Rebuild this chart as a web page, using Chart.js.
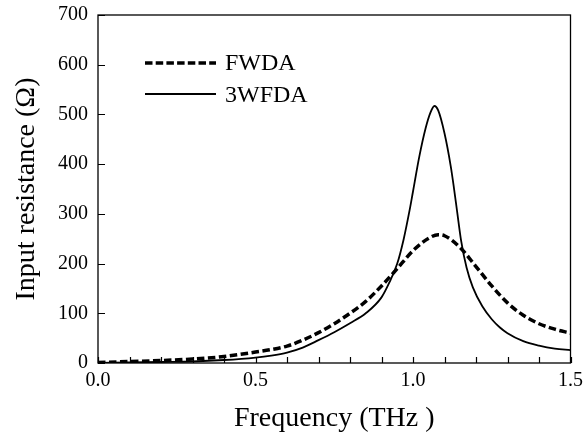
<!DOCTYPE html>
<html>
<head>
<meta charset="utf-8">
<script src="https://cdn.jsdelivr.net/npm/chart.js@4/dist/chart.umd.min.js"></script>
<style>
html,body{margin:0;padding:0;background:#fff;}
#wrap{width:583px;height:436px;}
</style>
</head>
<body>
<div id="wrap"><canvas id="c" width="583" height="436"></canvas></div>
<script>
// Data
const freqFWDA = [0.0, 0.1, 0.2, 0.3, 0.4, 0.5, 0.55, 0.6, 0.65, 0.7, 0.75, 0.8, 0.85, 0.9, 0.95, 1.0, 1.05, 1.08, 1.1, 1.15, 1.2, 1.25, 1.3, 1.35, 1.4, 1.45, 1.5];
const resFWDA  = [1, 3, 5, 8, 13, 22, 27, 34, 46, 61, 79, 100, 124, 155, 190, 226, 251, 258, 256, 232, 194, 155, 121, 96, 79, 68, 60];

const freq3WFDA = [0.0, 0.1, 0.2, 0.3, 0.4, 0.5, 0.55, 0.6, 0.65, 0.7, 0.75, 0.8, 0.85, 0.9, 0.925, 0.95, 0.97, 0.99, 1.0, 1.02, 1.04, 1.055, 1.068, 1.08, 1.1, 1.12, 1.13, 1.14, 1.153, 1.17, 1.19, 1.22, 1.25, 1.275, 1.3, 1.35, 1.4, 1.45, 1.5];
const res3WFDA  = [0, 1, 2, 3, 6, 11, 15, 21, 31, 46, 62, 80, 100, 132, 162, 200, 248, 310, 345, 415, 472, 503, 517, 508, 462, 395, 352, 305, 245, 192, 152, 114, 88, 72, 60, 44, 35, 29, 26];

const seriesNames = ['FWDA', '3WFDA'];
const xTicks = [0.0, 0.5, 1.0, 1.5];
const xMinorStep = 0.1;
const yTicks = [0, 100, 200, 300, 400, 500, 600, 700];

const serif = "'Liberation Serif', 'Times New Roman', serif";

function toPoints(xs, ys){ return xs.map((x,i)=>({x:x, y:ys[i]})); }

const frameAndTicks = {
  id: 'frameAndTicks',
  afterDatasetsDraw(chart){
    const {ctx, chartArea:a, scales:{x, y}} = chart;
    ctx.save();
    ctx.strokeStyle = '#000';
    ctx.lineWidth = 1.3;
    ctx.strokeRect(a.left, a.top, a.right - a.left, a.bottom - a.top);
    ctx.lineWidth = 1.2;
    ctx.beginPath();
    for (let i = 0; i <= Math.round((x.max - x.min)/xMinorStep); i++) {
      const v = x.min + i*xMinorStep;
      const px = Math.round(x.getPixelForValue(v)) + 0.5;
      ctx.moveTo(px, a.bottom);
      ctx.lineTo(px, a.bottom - 6);
    }
    yTicks.forEach(v=>{
      const py = Math.round(y.getPixelForValue(v)) + 0.5;
      ctx.moveTo(a.left, py);
      ctx.lineTo(a.left + 7, py);
    });
    ctx.stroke();

    // legend
    const lx0 = a.left + 47, lx1 = a.left + 118;
    const ly0 = a.top + 48, ly1 = a.top + 79;
    ctx.lineWidth = 3.5;
    ctx.setLineDash([7.5, 3.2]);
    ctx.beginPath(); ctx.moveTo(lx0, ly0); ctx.lineTo(lx1, ly0); ctx.stroke();
    ctx.setLineDash([]);
    ctx.lineWidth = 1.8;
    ctx.beginPath(); ctx.moveTo(lx0, ly1); ctx.lineTo(lx1, ly1); ctx.stroke();
    ctx.fillStyle = '#000';
    ctx.font = "24px " + serif;
    ctx.textBaseline = 'middle';
    ctx.textAlign = 'left';
    ctx.fillText(seriesNames[0], lx1 + 9, ly0 + 1);
    ctx.fillText(seriesNames[1], lx1 + 9, ly1 + 2);
    ctx.restore();
  }
};

new Chart(document.getElementById('c'), {
  type: 'line',
  data: {
    datasets: [
      {
        label: seriesNames[0],
        data: toPoints(freqFWDA, resFWDA),
        borderColor: '#000',
        borderWidth: 3.5,
        borderDash: [7.5, 3.5],
        pointRadius: 0,
        fill: false,
        cubicInterpolationMode: 'monotone'
      },
      {
        label: seriesNames[1],
        data: toPoints(freq3WFDA, res3WFDA),
        borderColor: '#000',
        borderWidth: 1.8,
        pointRadius: 0,
        fill: false,
        cubicInterpolationMode: 'monotone'
      }
    ]
  },
  options: {
    responsive: false,
    animation: false,
    devicePixelRatio: 1,
    layout: { padding: { left: 0, right: 12, top: 15, bottom: 0 } },
    plugins: { legend: { display: false }, tooltip: { enabled: false } },
    scales: {
      x: {
        type: 'linear',
        min: 0, max: 1.5,
        afterBuildTicks(scale){ scale.ticks = xTicks.map(v=>({value:v})); },
        afterFit(scale){ scale.height = 73; },
        grid: { display: false, drawTicks: true, tickLength: 6 },
        border: { display: false },
        ticks: {
          color: '#000',
          font: { family: serif, size: 20 },
          padding: 0,
          maxRotation: 0,
          callback: v => Number(v).toFixed(1)
        },
        title: {
          display: true,
          text: 'Frequency (THz )',
          color: '#000',
          font: { family: serif, size: 28 },
          padding: { top: 0, bottom: 1 }
        }
      },
      y: {
        type: 'linear',
        min: 0, max: 700,
        afterBuildTicks(scale){ scale.ticks = yTicks.map(v=>({value:v})); },
        afterFit(scale){ scale.width = 98; },
        grid: { display: false, drawTicks: true, tickLength: 8 },
        border: { display: false },
        ticks: {
          color: '#000',
          font: { family: serif, size: 20 },
          padding: 2
        },
        title: {
          display: true,
          text: 'Input resistance (Ω)',
          color: '#000',
          font: { family: serif, size: 28 },
          padding: { top: 10, bottom: 0 }
        }
      }
    }
  },
  plugins: [frameAndTicks]
});
</script>
</body>
</html>
